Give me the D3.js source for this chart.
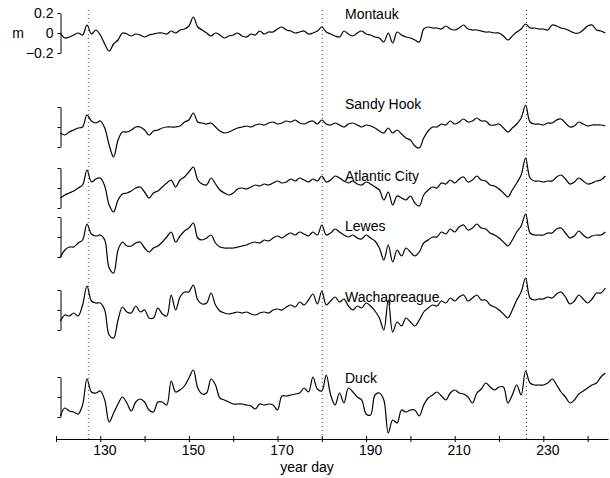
<!DOCTYPE html>
<html>
<head>
<meta charset="utf-8">
<script src="https://cdn.jsdelivr.net/npm/d3@7"></script>
<style>
body { margin: 0; background: #fff; }
text { font-family: "Liberation Sans", Arial, Helvetica, sans-serif; fill: #000; }
</style>
</head>
<body>
<div id="chart"></div>
<script>

// year days (one value per day)
var days = d3.range(121, 245);
var stations = ["Montauk", "Sandy Hook", "Atlantic City", "Lewes", "Wachapreague", "Duck"];

// sea level anomaly, metres
var montauk = [
  0.00,-0.05,-0.04,-0.02,0.00,-0.02,0.08,-0.01,0.03,-0.02,
  -0.11,-0.18,-0.11,-0.07,0.00,-0.01,-0.03,-0.01,-0.02,-0.04,
  -0.02,-0.01,0.00,0.00,-0.01,0.02,0.00,0.03,0.04,0.07,
  0.16,0.06,0.03,0.00,-0.03,0.00,-0.02,-0.05,-0.03,-0.02,
  0.00,-0.03,-0.04,-0.01,-0.02,0.02,-0.01,0.01,0.01,0.04,
  0.06,0.03,0.02,0.00,0.01,0.02,-0.01,0.00,0.02,0.06,
  0.01,-0.01,-0.03,-0.04,0.02,-0.01,-0.03,0.00,0.02,-0.01,
  -0.02,-0.04,-0.05,-0.09,0.00,-0.10,0.01,-0.02,-0.04,-0.05,
  -0.07,-0.09,0.04,0.06,0.05,0.05,0.04,0.07,0.04,0.03,
  0.05,0.08,0.04,0.03,0.03,0.02,0.01,0.01,0.00,0.00,
  -0.03,-0.07,-0.03,0.01,0.04,0.09,0.05,0.05,0.04,0.04,
  0.03,0.08,0.07,0.05,0.04,0.02,0.00,0.00,0.03,0.07,
  0.08,0.03,0.02,0.00
];
var sandyHook = [
  -0.06,-0.08,-0.05,-0.03,-0.01,0.00,0.12,0.06,0.04,0.06,
  -0.01,-0.18,-0.30,-0.13,-0.05,-0.05,-0.03,0.00,0.00,-0.03,
  -0.08,-0.04,-0.03,-0.01,0.00,0.00,0.00,0.01,0.05,0.07,
  0.14,0.05,0.04,0.03,0.04,0.00,-0.04,-0.06,-0.05,-0.03,
  -0.01,0.00,0.01,0.00,0.02,0.03,0.02,0.04,0.05,0.03,
  0.04,0.06,0.05,0.07,0.04,0.03,0.05,0.06,0.03,0.07,
  0.03,0.02,0.04,0.02,0.00,0.03,0.04,0.02,0.00,0.02,
  0.01,-0.01,-0.04,-0.06,-0.01,-0.06,-0.03,-0.07,-0.11,-0.13,
  -0.19,-0.21,-0.11,-0.04,0.00,0.00,0.03,0.02,0.06,0.03,
  0.05,0.08,0.05,0.06,0.09,0.06,0.06,0.02,0.02,0.03,
  -0.01,-0.05,-0.01,0.03,0.09,0.22,0.05,0.03,0.03,0.02,
  0.04,0.04,0.07,0.08,0.04,0.00,0.01,0.05,0.03,0.01,
  0.02,0.02,0.02,0.01
];
var atlanticCity = [
  -0.10,-0.07,-0.05,-0.03,0.00,0.03,0.18,0.06,0.09,0.10,
  0.02,-0.17,-0.24,-0.12,-0.06,-0.05,-0.03,0.00,0.01,-0.04,
  -0.10,-0.05,-0.03,0.01,0.05,0.08,0.01,0.08,0.11,0.16,
  0.21,0.08,0.04,0.03,0.10,0.04,-0.02,-0.05,-0.07,-0.05,
  -0.01,0.00,-0.01,0.01,0.03,0.02,0.04,0.03,0.05,0.07,
  0.05,0.06,0.09,0.07,0.10,0.08,0.06,0.09,0.07,0.12,
  0.06,0.08,0.12,0.10,0.07,0.05,0.07,0.04,0.03,0.06,
  0.04,0.01,-0.02,-0.12,-0.04,-0.17,-0.08,-0.10,-0.12,-0.08,
  -0.15,-0.18,-0.07,-0.02,0.01,0.00,0.05,0.04,0.08,0.05,
  0.09,0.11,0.06,0.08,0.12,0.08,0.07,0.03,0.02,-0.01,
  -0.05,-0.09,-0.02,0.05,0.13,0.30,0.10,0.07,0.07,0.06,
  0.07,0.07,0.11,0.13,0.09,0.04,0.06,0.10,0.07,0.04,
  0.05,0.07,0.08,0.12
];
var lewes = [
  -0.20,-0.13,-0.10,-0.10,-0.06,-0.03,0.13,0.03,0.01,0.02,
  -0.03,-0.31,-0.36,-0.13,-0.05,-0.09,-0.09,-0.06,-0.05,-0.11,
  -0.15,-0.11,-0.09,-0.05,0.00,0.05,-0.05,0.01,0.06,0.09,
  0.14,-0.01,-0.03,-0.01,0.02,-0.06,-0.10,-0.11,-0.11,-0.11,
  -0.10,-0.09,-0.08,-0.06,-0.05,-0.06,-0.03,-0.04,-0.01,0.01,
  -0.01,0.02,0.04,0.02,0.05,0.03,0.01,0.05,0.02,0.12,
  0.02,0.04,0.08,0.05,0.02,0.00,0.02,-0.01,-0.02,0.02,
  -0.01,-0.04,-0.11,-0.23,-0.08,-0.25,-0.13,-0.19,-0.11,-0.15,
  -0.19,-0.15,-0.06,-0.03,0.00,0.00,0.05,0.03,0.08,0.05,
  0.10,0.12,0.07,0.09,0.13,0.09,0.08,0.04,0.02,-0.01,
  -0.05,-0.09,-0.03,0.05,0.11,0.23,0.04,0.02,0.02,0.02,
  0.04,0.04,0.08,0.09,0.04,-0.01,0.01,0.06,0.02,-0.01,
  0.01,0.02,0.02,0.05
];
var wachapreague = [
  -0.11,-0.05,-0.06,-0.03,-0.06,0.05,0.24,0.09,0.07,0.07,
  0.00,-0.25,-0.28,-0.10,0.03,-0.02,-0.03,0.04,-0.02,0.00,
  -0.08,-0.08,0.02,-0.04,-0.06,0.15,0.00,0.13,0.18,0.18,
  0.25,0.10,0.06,0.07,0.17,0.05,-0.01,-0.03,-0.04,-0.03,
  -0.02,-0.03,-0.02,-0.04,-0.05,-0.03,-0.02,-0.03,0.00,0.01,
  0.00,0.03,0.05,0.03,0.08,0.05,0.10,0.16,0.06,0.19,
  0.05,0.09,0.13,0.08,0.11,0.04,0.00,0.04,0.02,0.07,
  0.04,-0.01,-0.08,-0.20,0.10,-0.22,-0.12,-0.16,-0.08,-0.12,
  -0.16,-0.10,-0.02,0.02,0.05,0.04,0.09,0.07,0.12,0.09,
  0.13,0.15,0.09,0.12,0.15,0.10,0.10,0.05,0.03,0.00,
  -0.04,-0.08,0.00,0.10,0.18,0.32,0.12,0.10,0.11,0.11,
  0.13,0.12,0.16,0.18,0.13,0.06,0.09,0.15,0.11,0.07,
  0.11,0.17,0.17,0.22
];
var duck = [
  -0.19,-0.11,-0.14,-0.15,-0.17,-0.08,0.18,0.05,0.04,0.06,
  -0.03,-0.25,-0.16,-0.07,0.00,-0.06,-0.14,-0.05,-0.02,-0.05,
  -0.13,-0.15,-0.05,-0.05,-0.08,0.16,0.05,0.07,0.11,0.19,
  0.27,0.09,0.03,0.04,0.18,0.12,-0.01,-0.03,-0.05,-0.07,
  -0.07,-0.07,-0.08,-0.09,-0.12,-0.07,-0.08,-0.07,-0.08,-0.13,
  0.01,0.01,0.02,0.03,0.04,0.09,0.05,0.20,0.08,0.06,
  0.22,0.02,-0.08,0.04,-0.06,0.09,0.05,0.00,-0.03,-0.17,
  -0.18,0.02,0.04,-0.03,-0.36,-0.23,-0.26,-0.13,-0.15,-0.13,
  -0.13,-0.19,-0.08,-0.01,0.02,0.05,0.01,-0.03,0.04,0.07,
  0.04,0.03,0.00,-0.06,0.04,0.08,0.14,0.10,0.07,0.10,
  0.10,-0.06,0.02,0.12,0.02,0.26,0.14,0.12,0.12,0.12,
  0.14,0.18,0.12,0.05,0.00,-0.06,-0.03,0.03,0.06,0.09,
  0.12,0.14,0.20,0.24
];
var series = [montauk, sandyHook, atlanticCity, lewes, wachapreague, duck];

var eventDays = [127.3, 180.1, 226.2];
var xTicks = [120, 130, 140, 150, 160, 170, 180, 190, 200, 210, 220, 230, 240];
var xLabels = [130, 150, 170, 190, 210, 230];
var yTicks = [0.2, 0, -0.2];

// layout
var width = 610, height = 478;
var zeroY = [33, 127, 188, 237, 310, 397];
var labelY = [19, 109, 181, 231, 302, 383];
var axisY = 439;

var svg = d3.select("#chart").append("svg")
    .attr("width", width)
    .attr("height", height);

var x = d3.scaleLinear().domain([120, 244.6]).range([56, 608]);

// dotted event lines
svg.append("g")
    .selectAll("line")
    .data(eventDays)
    .enter().append("line")
    .attr("x1", function (d) { return x(d); })
    .attr("x2", function (d) { return x(d); })
    .attr("y1", 10)
    .attr("y2", axisY)
    .attr("stroke", "#444")
    .attr("stroke-width", 1)
    .attr("stroke-dasharray", "1,3");

var line = d3.line()
    .x(function (d, i) { return x(days[i]); })
    .curve(d3.curveCatmullRom.alpha(0.5));

series.forEach(function (vals, k) {
    var y = d3.scaleLinear().domain([-0.2, 0.2]).range([zeroY[k] + 20, zeroY[k] - 20]);

    // little scale bar on the left
    var yAxis = d3.axisLeft(y)
        .tickValues(yTicks)
        .tickSize(3)
        .tickSizeOuter(0)
        .tickPadding(4)
        .tickFormat(k === 0 ? d3.format("") : function () { return ""; });

    var ga = svg.append("g")
        .attr("transform", "translate(60.5,0)")
        .call(yAxis);
    ga.selectAll("text").style("font-size", "14px");
    ga.selectAll("path, line").attr("stroke", "#000");

    svg.append("path")
        .datum(vals)
        .attr("fill", "none")
        .attr("stroke", "#000")
        .attr("stroke-width", 1.2)
        .attr("d", line.y(function (d) { return y(d); }));

    svg.append("text")
        .attr("x", 345)
        .attr("y", labelY[k])
        .style("font-size", "14px")
        .text(stations[k]);
});

svg.append("text")
    .attr("x", 18)
    .attr("y", zeroY[0])
    .attr("dy", "0.35em")
    .attr("text-anchor", "middle")
    .style("font-size", "14px")
    .text("m");

// year day axis
var xAxis = d3.axisBottom(x)
    .tickValues(xTicks)
    .tickSize(3)
    .tickSizeOuter(0)
    .tickFormat(function (d) { return xLabels.indexOf(d) >= 0 ? d : ""; });

var gx = svg.append("g")
    .attr("transform", "translate(0," + axisY + ")")
    .call(xAxis);
gx.select(".domain").attr("stroke", "#000");
gx.selectAll(".tick line").attr("y1", -3).attr("y2", 3).attr("stroke", "#000");
gx.selectAll(".tick text")
    .attr("y", 16)
    .attr("dy", 0)
    .attr("dx", 4)
    .style("font-size", "14px");

svg.append("text")
    .attr("x", 307)
    .attr("y", 472)
    .attr("text-anchor", "middle")
    .style("font-size", "14px")
    .text("year day");

</script>
</body>
</html>
